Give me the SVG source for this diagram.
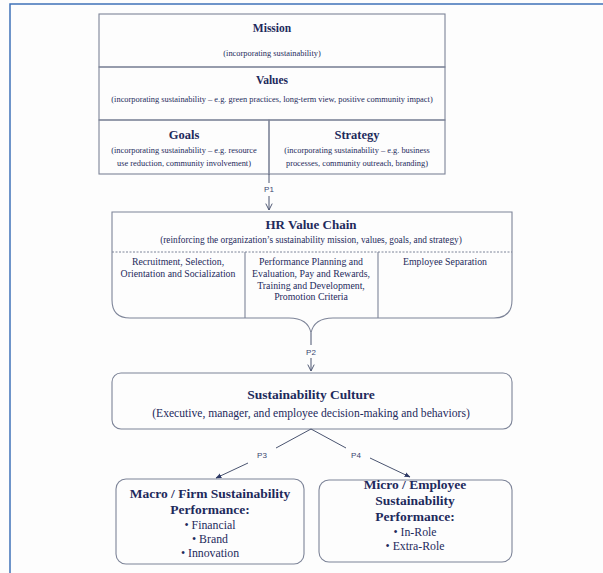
<svg xmlns="http://www.w3.org/2000/svg" width="603" height="573" viewBox="0 0 603 573">
<style>
.bx{fill:none;stroke:#7d8498;stroke-width:1.1}
.ln{fill:none;stroke:#4a5470;stroke-width:1}
.t{font-family:"Liberation Serif",serif;fill:#1e2a5c;text-anchor:middle}
.b{font-weight:bold}
.c{font-size:9.8px}
.s{font-size:8.4px}
.u{font-size:11.8px}
.p{font-family:"Liberation Sans",sans-serif;fill:#3a4670;font-size:8px;text-anchor:middle}
</style>
<defs>
<marker id="v" viewBox="0 0 10 10" refX="9" refY="5" markerWidth="8" markerHeight="8" orient="auto" markerUnits="userSpaceOnUse"><path d="M1,1 L9,5 L1,9" fill="none" stroke="#4a5470" stroke-width="1.2"/></marker>
<marker id="f" viewBox="0 0 10 10" refX="9" refY="5" markerWidth="6" markerHeight="6" orient="auto" markerUnits="userSpaceOnUse"><path d="M0,1 L10,5 L0,9 Z" fill="#2e3a66"/></marker>
</defs>
<rect width="603" height="573" fill="#fdfdfd"/>
<rect x="10" y="4" width="620" height="600" fill="#fdfdfd" stroke="#3f72b8" stroke-width="1.5"/>

<g id="mission">
<rect class="bx" x="99" y="14" width="346" height="53"/>
<text class="t b" x="272" y="32" font-size="11.5">Mission</text>
<text class="t s" x="272" y="56">(incorporating sustainability)</text>
</g>
<g id="values">
<rect class="bx" x="99" y="67" width="346" height="53"/>
<text class="t b" x="272" y="84" font-size="11.5">Values</text>
<text class="t s" x="272" y="102">(incorporating sustainability – e.g. green practices, long-term view, positive community impact)</text>
</g>
<g id="goals">
<rect class="bx" x="99" y="120" width="170" height="54"/>
<text class="t b" x="184" y="139" font-size="12.5">Goals</text>
<text class="t s" x="184" y="153">(incorporating sustainability – e.g. resource</text>
<text class="t s" x="184" y="166">use reduction, community involvement)</text>
</g>
<g id="strategy">
<rect class="bx" x="269" y="120" width="176" height="54"/>
<text class="t b" x="357" y="139" font-size="12.5">Strategy</text>
<text class="t s" x="357" y="153">(incorporating sustainability – e.g. business</text>
<text class="t s" x="357" y="166">processes, community outreach, branding)</text>
</g>

<g id="hr-value-chain">
<path class="bx" d="M112,212 H512 V300 Q512,318 494,318 H333 Q314,318 311,333 Q308,318 289,318 H130 Q112,318 112,300 Z"/>
<line x1="112" y1="252" x2="512" y2="252" stroke="#7d8498" stroke-width="1" stroke-dasharray="2,1.5"/>
<line class="bx" x1="245" y1="252" x2="245" y2="318"/>
<line class="bx" x1="378" y1="252" x2="378" y2="318"/>
<text class="t b" x="311" y="229" font-size="13">HR Value Chain</text>
<text class="t" x="311" y="243" font-size="9.3">(reinforcing the organization’s sustainability mission, values, goals, and strategy)</text>
<text class="t c" x="178" y="265">Recruitment, Selection,</text>
<text class="t c" x="178" y="277">Orientation and Socialization</text>
<text class="t c" x="311" y="265">Performance Planning and</text>
<text class="t c" x="311" y="277">Evaluation, Pay and Rewards,</text>
<text class="t c" x="311" y="289">Training and Development,</text>
<text class="t c" x="311" y="300">Promotion Criteria</text>
<text class="t c" x="445" y="265">Employee Separation</text>
</g>

<g id="culture">
<rect class="bx" x="112" y="373" width="400" height="56" rx="9"/>
<text class="t b" x="311" y="399" font-size="13.5">Sustainability Culture</text>
<text class="t" x="311" y="417" font-size="11.6">(Executive, manager, and employee decision-making and behaviors)</text>
</g>

<g id="macro">
<rect class="bx" x="116" y="479" width="188" height="85" rx="10"/>
<text class="t b" x="210" y="498" font-size="13.5">Macro / Firm Sustainability</text>
<text class="t b" x="210" y="514" font-size="13.5">Performance:</text>
<text class="t u" x="210" y="529">• Financial</text>
<text class="t u" x="210" y="543">• Brand</text>
<text class="t u" x="210" y="557">• Innovation</text>
</g>
<g id="micro">
<rect class="bx" x="319" y="480" width="193" height="82" rx="10"/>
<text class="t b" x="415" y="489" font-size="13.5">Micro / Employee</text>
<text class="t b" x="415" y="505" font-size="13.5">Sustainability</text>
<text class="t b" x="415" y="521" font-size="13.5">Performance:</text>
<text class="t u" x="415" y="536">• In-Role</text>
<text class="t u" x="415" y="550">• Extra-Role</text>
</g>

<g id="connectors">
<line class="ln" x1="269" y1="174" x2="269" y2="183"/>
<text class="p" x="269" y="192">P1</text>
<line class="ln" x1="269" y1="196" x2="269" y2="210" marker-end="url(#v)"/>
<line class="ln" x1="311" y1="333" x2="311" y2="345"/>
<text class="p" x="311" y="355">P2</text>
<line class="ln" x1="311" y1="358" x2="311" y2="371" marker-end="url(#v)"/>
<line class="ln" x1="311" y1="429" x2="276" y2="448"/>
<text class="p" x="262" y="458">P3</text>
<line class="ln" x1="248" y1="463" x2="216" y2="478" marker-end="url(#f)"/>
<line class="ln" x1="311" y1="429" x2="346" y2="448"/>
<text class="p" x="356" y="458">P4</text>
<line class="ln" x1="370" y1="458" x2="410" y2="477" marker-end="url(#f)"/>
</g>
</svg>
